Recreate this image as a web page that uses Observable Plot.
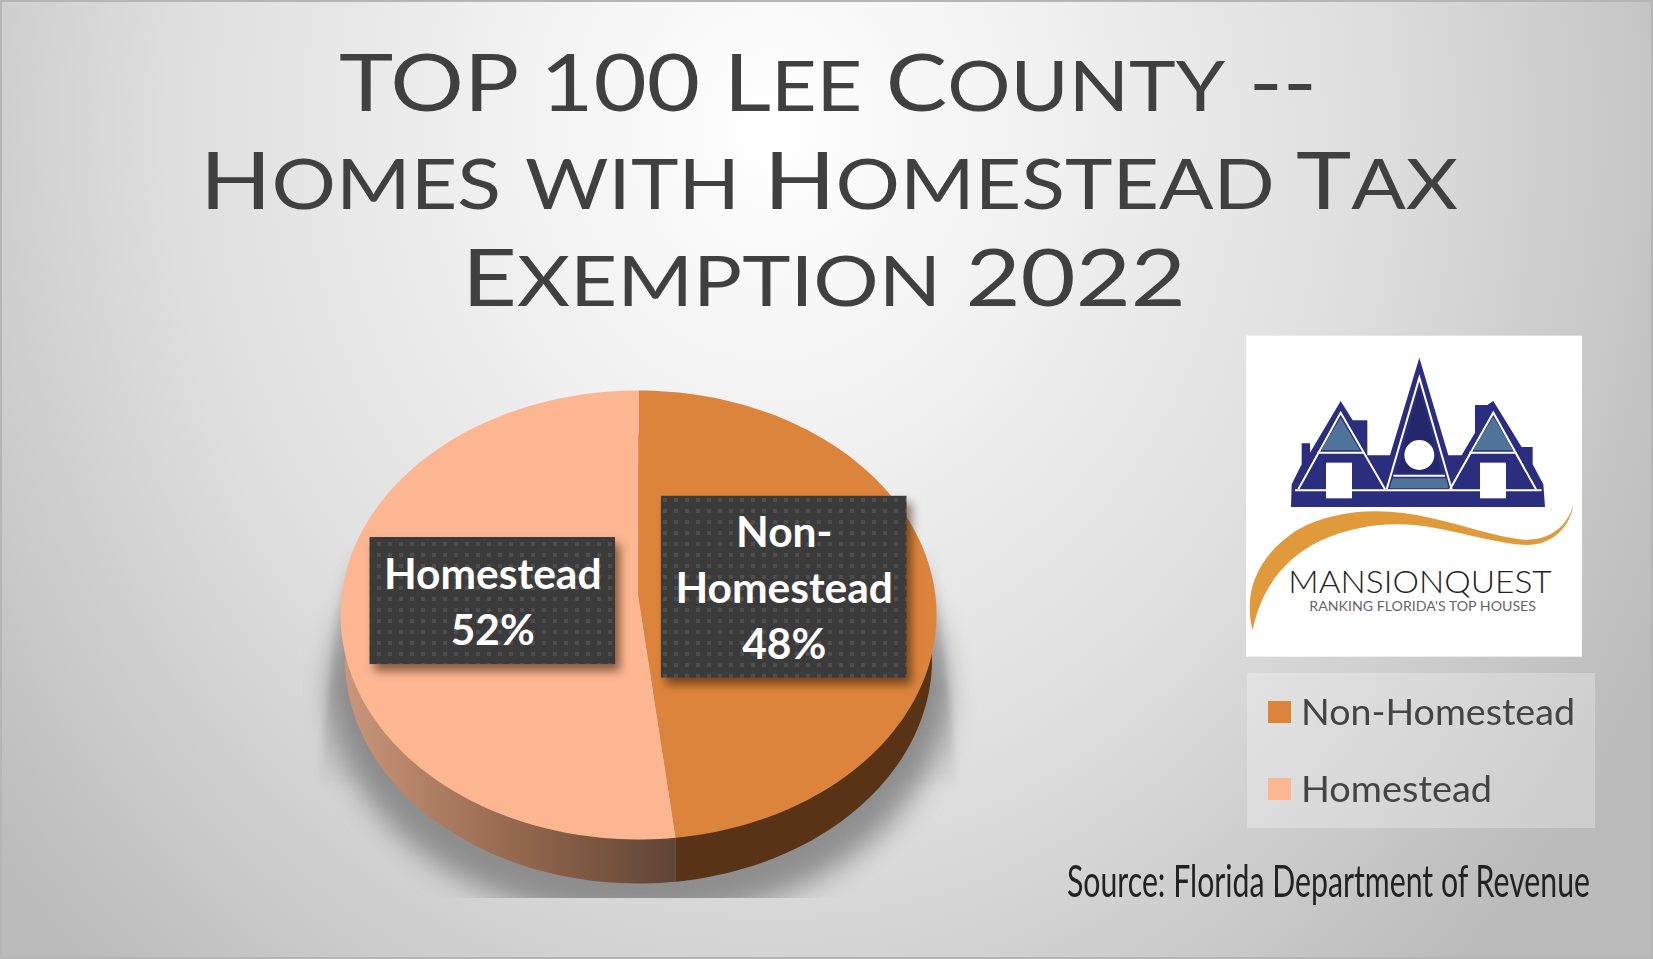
<!DOCTYPE html>
<html>
<head>
<meta charset="utf-8">
<script src="https://cdn.jsdelivr.net/npm/d3@7"></script>
<script src="https://cdn.jsdelivr.net/npm/@observablehq/plot@0.6"></script>
<style>
html,body{margin:0;padding:0;background:#ddd;}
#page{position:relative;width:1653px;height:959px;overflow:hidden;
  background:radial-gradient(ellipse 1000px 1150px at 770px 130px,#ffffff 0%,#f2f2f2 25%,#dedede 60%,#bbbbbb 100%);
  font-family:Lato,sans-serif;}
#page::after{content:"";position:absolute;inset:0;box-shadow:inset 0 0 0 2px #b5b5b5;pointer-events:none;}
#chart{position:absolute;left:0;top:0;}
.fit{position:absolute;white-space:nowrap;transform-origin:0 0;line-height:1;}
.title{color:#404040;font-size:80px;font-weight:400;}
.sc{text-transform:uppercase;font-size:.86em;}
#legend{position:absolute;left:1247px;top:673px;width:348px;height:155px;background:rgba(255,255,255,.27);}
.swatch{position:absolute;left:21px;width:23px;height:22px;}
.ltext{color:#444;font-size:36px;}
#logo{position:absolute;left:1230px;top:321px;width:380px;height:350px;}
</style>
</head>
<body>
<div id="page">
  <div id="chart"></div>
  <div id="titles"></div>
  <svg id="logo" viewBox="0 0 1140 1050">
    <rect x="48" y="44" width="1008" height="963" fill="#fff"/>
    <path fill="#2b2d7e" d="M183,558 L185,490 L215,430 L215,367 L240,367 L240,395 L332,240 L368,298 L412,298 L412,403 L480,403 L568,110 L655,403 L695,403 L735,335 L735,252 L772,252 L790,240 L875,378 L908,378 L908,430 L940,490 L945,558 Z"/>
    <g fill="none" stroke="#fff" stroke-width="6">
      <path d="M205,505 L332,275 L465,505"/>
      <path d="M660,505 L790,275 L918,505"/>
      <path d="M470,505 L568,170 L665,505"/>
      <path d="M195,508 H935"/>
      <path d="M262,395 H400 M718,395 H860"/>
      <path d="M490,464 H645"/>
    </g>
    <path fill="#4f7399" d="M332,290 L272,388 H390 Z M790,288 L728,388 H850 Z M488,472 H648 L656,502 H478 Z"/>
    <path fill="#25276b" d="M568,198 L502,455 H634 Z"/>
    <circle cx="568" cy="402" r="45" fill="#fff"/>
    <rect x="288" y="425" width="78" height="107" fill="#fff"/>
    <rect x="750" y="425" width="78" height="107" fill="#fff"/>
    <path fill="#e09a3c" d="M68,928 C40,820 75,710 200,628 C320,560 470,560 600,590 C720,618 810,650 885,656 C960,658 1015,615 1030,548 C1022,620 965,672 890,672 C810,670 720,640 620,622 C500,598 380,610 270,660 C160,712 90,810 68,928 Z"/>
    <text x="175" y="815" font-family="Lato" font-weight="300" font-size="97" fill="#222" textLength="790" lengthAdjust="spacingAndGlyphs">MANSIONQUEST</text>
    <text x="238" y="870" font-family="Lato" font-size="40" fill="#666" textLength="680" lengthAdjust="spacingAndGlyphs">RANKING FLORIDA'S TOP HOUSES</text>
  </svg>
  <div id="legend"></div>
  <div id="source"></div>
</div>
<svg width="0" height="0" style="position:absolute">
  <defs>
    <linearGradient id="wallLight" x1="0" x2="1" y1="0" y2="0">
      <stop offset="0" stop-color="#c9967a"/>
      <stop offset="0.5" stop-color="#96694f"/>
      <stop offset="1" stop-color="#5f4434"/>
    </linearGradient>
    <linearGradient id="coneShade" x1="0" x2="0" y1="0" y2="1">
      <stop offset="0" stop-color="#a8a8a8" stop-opacity="0"/>
      <stop offset="0.6" stop-color="#a8a8a8" stop-opacity="0.75"/>
      <stop offset="1" stop-color="#a8a8a8" stop-opacity="0.1"/>
    </linearGradient>
    <pattern id="dots" width="11" height="11" patternUnits="userSpaceOnUse">
      <rect width="11" height="11" fill="#3b3b3b"/>
      <rect x="3" y="3" width="4" height="4" fill="#4e4e4e"/>
    </pattern>
  </defs>
</svg>
<script>
// ---- data ----
const categories = ["Non-Homestead", "Homestead"];
const shares = [48, 52];
const sliceColors = ["#dd843c", "#fdb692"];
const wallColors = ["#583316", "url(#wallLight)"];
const titleLines = ["TOP 100 Lee County --", "Homes with Homestead Tax", "Exemption 2022"];
const sourceText = "Source: Florida Department of Revenue";

// ---- pie geometry in unit coordinates ----
const apexY = -0.085;          // tilt: the apex sits above the centre of the rim
const lowX = 0.985, lowY = 1.0, lowCy = 0.196; // lower rim of the extruded disc
const TAU = 2 * Math.PI;
let acc = 0;
const slices = categories.map((c, i) => {
  const a0 = acc / 100 * TAU; acc += shares[i];
  return {category: c, share: shares[i], a0, a1: acc / 100 * TAU, wall: wallColors[i]};
});
const arcPts = (a0, a1, rx, ry, cy) => d3.range(0, 121).map(k => {
  const a = a0 + (a1 - a0) * k / 120;
  return {x: rx * Math.sin(a), y: cy - ry * Math.cos(a)};
});
const tops = slices.flatMap(s => [{x: 0, y: apexY}, ...arcPts(s.a0, s.a1, 1, 1, 0)]
  .map(p => ({...p, category: s.category})));
const lowAngle = a => { // keep the wall seam vertical
  const t = Math.asin(Math.sin(a) / lowX);
  return Math.cos(a) < 0 ? Math.PI - t : t;
};
const wallOf = s => {
  const seam = s.a0 === 0 ? s.a1 : s.a0;
  return s.a0 === 0
    ? [{x: 0, y: apexY}, {x: Math.sin(seam), y: -Math.cos(seam)}, ...arcPts(lowAngle(seam), 0, lowX, lowY, lowCy)]
    : [{x: 0, y: apexY}, {x: Math.sin(seam), y: -Math.cos(seam)}, ...arcPts(lowAngle(seam), TAU, lowX, lowY, lowCy)];
};
const labels = slices.map(s => {
  const m = (s.a0 + s.a1) / 2, r = 0.49;
  const lines = s.category.replace("-", "-\n") + "\n" + s.share + "%";
  const n = lines.split("\n").length;
  return {
    text: lines,
    x: r * Math.sin(m),
    y: apexY - 0.008 - r * Math.cos(m),
    halfH: n === 3 ? 0.405 : 0.283,
    halfW: 0.412
  };
});
const shadowEllipse = arcPts(0, TAU, 1.03, 1.02, 0.34);
const cone = [{x:-0.99,y:-0.3},{x:0.99,y:-0.3},{x:1.07,y:0.75},{x:-1.07,y:0.75}];

const chart = Plot.plot({
  width: 1653, height: 959,
  marginLeft: 0, marginRight: 0, marginTop: 0, marginBottom: 61,
  style: {background: "transparent", overflow: "visible"},
  x: {domain: [-1, 1], range: [340, 936], axis: null},
  y: {domain: [-1, 1], range: [390, 839], axis: null},
  color: {domain: categories, range: sliceColors},
  marks: [
    Plot.line(cone, {x: "x", y: "y", fill: "url(#coneShade)", stroke: "none", imageFilter: "blur(3px)"}),
    Plot.line(shadowEllipse, {x: "x", y: "y", fill: "#808080", fillOpacity: 0.85, stroke: "none", imageFilter: "blur(14px)", clip: "frame"}),
    ...slices.map(s => Plot.line(wallOf(s), {x: "x", y: "y", fill: s.wall, stroke: "none"})),
    Plot.line(tops, {x: "x", y: "y", z: "category", fill: "category", stroke: "none"}),
    Plot.rect(labels, {
      x1: d => d.x - d.halfW, x2: d => d.x + d.halfW,
      y1: d => d.y - d.halfH, y2: d => d.y + d.halfH,
      fill: "url(#dots)", imageFilter: "drop-shadow(5px 7px 5px rgba(40,20,0,.55))"
    }),
    Plot.text(labels, {x: "x", y: "y", dy: -2, text: "text", fill: "#fff", fontFamily: "Lato", fontWeight: 700, fontSize: 42.5, lineHeight: 1.32})
  ]
});
document.getElementById("chart").append(chart);

// ---- text set beside the plot ----
function fitted(parent, html, cls, left, top, width) {
  const el = document.createElement("div");
  el.className = "fit " + cls;
  el.innerHTML = html;
  el.style.left = left + "px";
  el.style.top = top + "px";
  parent.append(el);
  el.style.transform = `scaleX(${width / el.getBoundingClientRect().width})`;
  return el;
}
const titleBox = document.getElementById("titles");
const smallCaps = t => t.replace(/[a-z]+/g, m => `<span class="sc">${m}</span>`);
const titleX = [339, 200, 462], titleW = [978, 1258, 724], titleTop = [40, 138, 235];
titleLines.forEach((t, i) => fitted(titleBox, smallCaps(t), "title", titleX[i], titleTop[i], titleW[i]));

const legend = document.getElementById("legend");
const legendOrderTop = [28, 105];
categories.forEach((c, i) => {
  const sw = document.createElement("div");
  sw.className = "swatch";
  sw.style.top = legendOrderTop[i] + "px";
  sw.style.background = sliceColors[i];
  legend.append(sw);
  fitted(legend, c, "ltext", 54, legendOrderTop[i] - 8, i === 0 ? 274 : 191);
});
const src = fitted(document.getElementById("source"), sourceText, "", 1067, 858, 523);
src.style.fontSize = "44px"; src.style.color = "#222";
src.style.transform = "none";
src.style.transform = `scaleX(${523 / src.getBoundingClientRect().width})`;
</script>
</body>
</html>
